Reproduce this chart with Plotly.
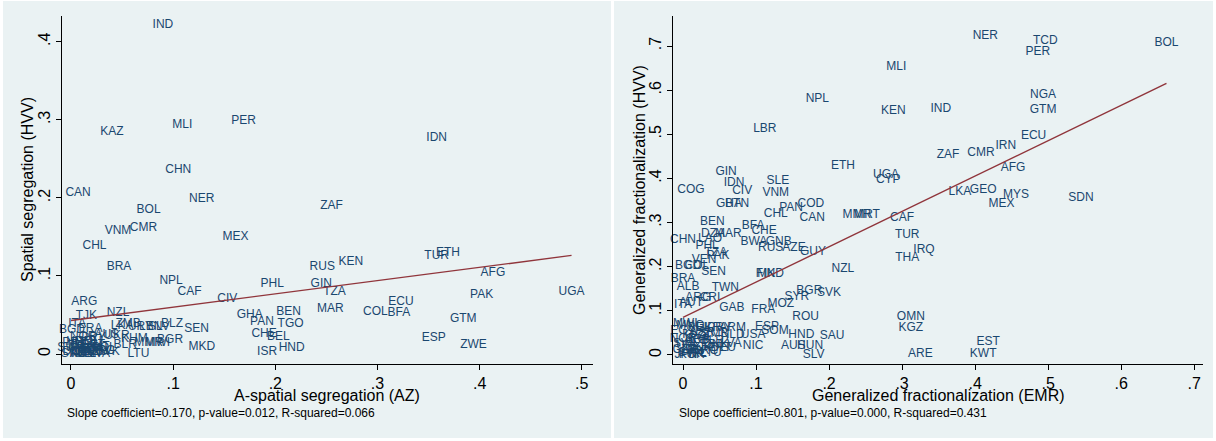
import numpy as np
import plotly.graph_objects as go

# panel 1: spatial (HVV) vs a-spatial (AZ) segregation
seg_codes = ["IND", "KAZ", "MLI", "PER", "IDN", "CHN", "CAN", "NER", "BOL", "ZAF",
             "MEX", "VNM", "CMR", "CHL", "BRA", "NPL", "PHL", "CAF", "CIV", "ARG",
             "TJK", "NZL", "GHA", "BEN", "PAN", "TGO", "ZMB", "BLZ", "SEN", "CHE",
             "BEL", "MKD", "ISR", "HND", "LTU", "RUS", "KEN", "TUR", "ETH", "AFG",
             "UGA", "PAK", "GIN", "TZA", "MAR", "ECU", "COL", "BFA", "GTM", "ESP",
             "ZWE", "ITA", "BGD", "FRA", "LKA", "URY", "LBN", "SLV", "NOR", "PRY",
             "AUS", "UKR", "BLR", "KHM", "MMR", "MWI", "BGR", "SWE", "DNK", "FIN",
             "CZE", "SVN", "HRV", "IRL", "NLD", "GBR", "JPN", "KOR", "DEU", "AUT",
             "PRT", "GRC", "LVA", "EST", "POL", "HUN", "ROU", "SVK", "ARM"]
seg_az = [0.090, 0.040, 0.109, 0.169, 0.358, 0.105, 0.007, 0.128, 0.076, 0.255,
          0.161, 0.046, 0.071, 0.023, 0.047, 0.098, 0.197, 0.116, 0.153, 0.013,
          0.015, 0.046, 0.175, 0.213, 0.187, 0.215, 0.056, 0.099, 0.123, 0.189,
          0.203, 0.128, 0.192, 0.216, 0.066, 0.246, 0.274, 0.358, 0.369, 0.413,
          0.490, 0.402, 0.245, 0.258, 0.254, 0.323, 0.298, 0.321, 0.384, 0.355,
          0.394, 0.006, 0.001, 0.019, 0.050, 0.068, 0.078, 0.086, 0.012, 0.022,
          0.035, 0.045, 0.053, 0.062, 0.076, 0.085, 0.097, 0.000, 0.004, 0.008,
          0.012, 0.002, 0.016, 0.006, 0.010, 0.014, 0.018, 0.020, 0.024, 0.026,
          0.003, 0.030, 0.028, 0.022, 0.032, 0.008, 0.017, 0.036, 0.012]
seg_hvv = [0.422, 0.285, 0.293, 0.298, 0.277, 0.236, 0.206, 0.199, 0.184, 0.189,
           0.150, 0.157, 0.162, 0.138, 0.111, 0.094, 0.090, 0.079, 0.071, 0.067,
           0.049, 0.053, 0.050, 0.054, 0.041, 0.039, 0.039, 0.039, 0.032, 0.025,
           0.022, 0.009, 0.003, 0.008, 0.000, 0.112, 0.118, 0.126, 0.130, 0.104,
           0.079, 0.075, 0.090, 0.080, 0.058, 0.067, 0.054, 0.053, 0.045, 0.021,
           0.011, 0.038, 0.031, 0.032, 0.036, 0.034, 0.034, 0.034, 0.022, 0.020,
           0.024, 0.023, 0.011, 0.019, 0.014, 0.014, 0.018, 0.008, 0.003, 0.006,
           0.002, 0.000, 0.006, 0.012, 0.000, 0.010, 0.001, 0.005, 0.003, 0.009,
           0.014, 0.004, 0.000, 0.011, 0.008, 0.016, 0.015, 0.002, 0.000]

# panel 2: generalized fractionalization (HVV) vs (EMR)
frac_codes = ["NER", "TCD", "PER", "BOL", "MLI", "NGA", "NPL", "KEN", "IND", "GTM",
              "LBR", "ECU", "IRN", "ZAF", "CMR", "AFG", "ETH", "UGA", "CYP", "GIN",
              "IDN", "SLE", "CIV", "VNM", "LKA", "GEO", "MYS", "MEX", "SDN", "CAF",
              "MMR", "MRT", "TUR", "IRQ", "THA", "OMN", "KGZ", "EST", "ARE", "KWT",
              "COG", "GHA", "BTN", "COD", "PAN", "CHL", "CAN", "BEN", "BFA", "CHE",
              "CHN", "LAO", "DZA", "MAR", "BWA", "GNB", "RUS", "AZE", "GUY", "PHL",
              "TZA", "PAK", "VEN", "BGD", "COL", "SEN", "FIN", "MKD", "NZL", "BRA",
              "ALB", "TWN", "ITA", "ARG", "CRI", "AUT", "GAB", "FRA", "MOZ", "SYR",
              "BGR", "SVK", "ROU", "ESP", "SOM", "HND", "SAU", "USA", "NIC", "AUS",
              "HUN", "SLV", "NLD", "LVA", "ARM", "EGY", "MWI", "NOR", "MNG", "BEL",
              "UKR", "PRY", "ISR", "ZMB", "KAZ", "POL", "SRB", "BLR", "DNK", "PRT",
              "DEU", "LTU", "SWE", "CZE", "SVN", "HRV", "IRL", "JPN", "KOR", "TJK",
              "GRC", "URY"]
frac_emr = [0.414, 0.496, 0.486, 0.662, 0.292, 0.493, 0.184, 0.288, 0.353, 0.493,
            0.112, 0.480, 0.442, 0.363, 0.408, 0.452, 0.219, 0.278, 0.281, 0.059,
            0.070, 0.130, 0.081, 0.127, 0.379, 0.411, 0.456, 0.436, 0.545, 0.300,
            0.238, 0.252, 0.307, 0.330, 0.307, 0.312, 0.312, 0.418, 0.325, 0.411,
            0.011, 0.063, 0.074, 0.175, 0.148, 0.127, 0.177, 0.040, 0.096, 0.111,
            0.000, 0.037, 0.041, 0.062, 0.097, 0.131, 0.120, 0.152, 0.178, 0.033,
            0.045, 0.048, 0.029, 0.007, 0.019, 0.042, 0.113, 0.120, 0.219, 0.000,
            0.007, 0.058, 0.000, 0.021, 0.037, 0.011, 0.067, 0.110, 0.134, 0.156,
            0.173, 0.200, 0.168, 0.115, 0.126, 0.162, 0.204, 0.096, 0.096, 0.151,
            0.174, 0.179, 0.068, 0.066, 0.068, 0.000, 0.003, 0.000, 0.010, 0.022,
            0.035, 0.050, 0.030, 0.045, 0.015, 0.025, 0.020, 0.040, 0.045, 0.050,
            0.055, 0.038, 0.005, 0.002, 0.010, 0.015, 0.020, 0.004, 0.012, 0.025,
            0.030, 0.008]
frac_hvv = [0.723, 0.711, 0.686, 0.707, 0.653, 0.589, 0.580, 0.553, 0.557, 0.556,
            0.511, 0.496, 0.474, 0.454, 0.458, 0.424, 0.428, 0.407, 0.396, 0.414,
            0.389, 0.395, 0.371, 0.366, 0.369, 0.373, 0.363, 0.341, 0.355, 0.310,
            0.316, 0.316, 0.272, 0.238, 0.220, 0.086, 0.061, 0.030, 0.002, 0.002,
            0.373, 0.343, 0.343, 0.343, 0.334, 0.320, 0.310, 0.302, 0.293, 0.280,
            0.261, 0.263, 0.275, 0.275, 0.257, 0.257, 0.243, 0.243, 0.234, 0.248,
            0.232, 0.224, 0.216, 0.202, 0.202, 0.189, 0.184, 0.184, 0.195, 0.173,
            0.155, 0.152, 0.114, 0.130, 0.128, 0.118, 0.107, 0.102, 0.115, 0.132,
            0.145, 0.140, 0.086, 0.063, 0.054, 0.045, 0.043, 0.045, 0.020, 0.020,
            0.020, 0.000, 0.045, 0.025, 0.062, 0.055, 0.070, 0.037, 0.065, 0.062,
            0.060, 0.062, 0.050, 0.047, 0.045, 0.040, 0.033, 0.032, 0.022, 0.015,
            0.015, 0.005, 0.025, 0.012, 0.005, 0.010, 0.002, 0.000, 0.000, 0.015,
            0.008, 0.020]

# fitted lines (intercept, slope from the notes)
fit_intercept = [0.043, 0.085]
fit_slope = [0.170, 0.801]
notes = ["Slope coefficient=0.170, p-value=0.012, R-squared=0.066",
         "Slope coefficient=0.801, p-value=0.000, R-squared=0.431"]

seg_ticks = [0, 0.1, 0.2, 0.3, 0.4, 0.5]
seg_ticktext = ["0", ".1", ".2", ".3", ".4", ".5"]
seg_yticks = [0, 0.1, 0.2, 0.3, 0.4]
seg_yticktext = ["0", ".1", ".2", ".3", ".4"]
frac_ticks = [0, 0.1, 0.2, 0.3, 0.4, 0.5, 0.6, 0.7]
frac_ticktext = ["0", ".1", ".2", ".3", ".4", ".5", ".6", ".7"]

W, H = 1216, 441
FONT = "Liberation Sans, Arial, sans-serif"
LABEL_COLOR = "#1A476F"
FIT_COLOR = "#90353B"
BG = "#EAF2F3"

fig = go.Figure()

panels = [
    (seg_codes, seg_az, seg_hvv, "x", "y"),
    (frac_codes, frac_emr, frac_hvv, "x2", "y2"),
]
for i, (codes, xs, ys, xa, ya) in enumerate(panels):
    fig.add_trace(go.Scatter(
        x=xs, y=ys, text=codes, mode="text", textposition="middle center",
        textfont=dict(family=FONT, size=12, color=LABEL_COLOR),
        xaxis=xa, yaxis=ya, cliponaxis=False, hoverinfo="skip", showlegend=False))
    xfit = np.array([min(xs), max(xs)])
    yfit = fit_intercept[i] + fit_slope[i] * xfit
    fig.add_trace(go.Scatter(
        x=xfit, y=yfit, mode="lines", line=dict(color=FIT_COLOR, width=1.4),
        xaxis=xa, yaxis=ya, hoverinfo="skip", showlegend=False))

ydom = [1 - 364 / H, 1 - 16 / H]
common = dict(showline=True, linecolor="black", linewidth=1, ticks="outside",
              ticklen=5, tickcolor="black", zeroline=False,
              tickfont=dict(family=FONT, size=16, color="black"))

fig.update_layout(
    width=W, height=H, margin=dict(l=0, r=0, t=0, b=0),
    paper_bgcolor="white", plot_bgcolor="white",
    xaxis=dict(domain=[62 / W, 593 / W], range=[-0.0088, 0.511], anchor="y",
               tickvals=seg_ticks, ticktext=seg_ticktext, showgrid=False, **common),
    yaxis=dict(domain=ydom, range=[-0.0128, 0.433], anchor="x",
               tickvals=seg_yticks, ticktext=seg_yticktext, tickangle=-90,
               showgrid=True, gridcolor=BG, gridwidth=1.5, **common),
    xaxis2=dict(domain=[673 / W, 1203 / W], range=[-0.0137, 0.712], anchor="y2",
                tickvals=frac_ticks, ticktext=frac_ticktext, showgrid=False, **common),
    yaxis2=dict(domain=ydom, range=[-0.0205, 0.768], anchor="x2",
                tickvals=frac_ticks, ticktext=frac_ticktext, tickangle=-90,
                showgrid=True, gridcolor=BG, gridwidth=1.5, **common),
)

# grey graph regions behind each panel
for x0, x1 in [(3, 611), (614, 1213)]:
    fig.add_shape(type="rect", xref="paper", yref="paper", layer="below",
                  x0=x0 / W, x1=x1 / W, y0=1 - 438 / H, y1=1 - 1 / H,
                  fillcolor=BG, line=dict(width=0))

titles = [
    ("A-spatial segregation (AZ)", 327, 395, 0),
    ("Generalized fractionalization (EMR)", 938, 395, 0),
    ("Spatial segregation (HVV)", 28, 190, -90),
    ("Generalized fractionalization (HVV)", 640, 190, -90),
]
for txt, px, py, ang in titles:
    fig.add_annotation(text=txt, x=px / W, y=1 - py / H, xref="paper", yref="paper",
                       showarrow=False, textangle=ang, xanchor="center", yanchor="middle",
                       font=dict(family=FONT, size=16, color="black"))

for txt, px in zip(notes, [65, 677]):
    fig.add_annotation(text=txt, x=px / W, y=1 - 413 / H, xref="paper", yref="paper",
                       showarrow=False, xanchor="left", yanchor="middle",
                       font=dict(family=FONT, size=12, color="black"))

# drop the browser's default body margin so the figure sits at the page corner
fig.write_html("out.html", config={"displayModeBar": False},
               post_script="document.body.style.margin='0';document.body.style.overflow='hidden';")
